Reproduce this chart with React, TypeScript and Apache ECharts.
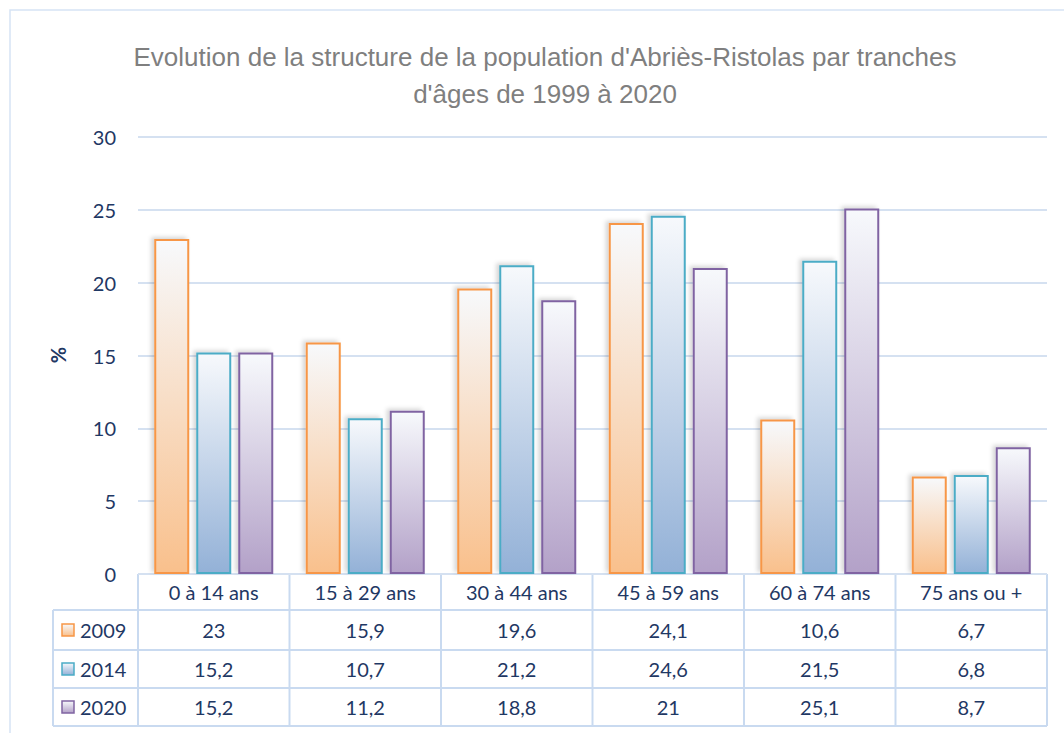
import React, { useEffect, useRef } from "react";
import * as echarts from "echarts";

const titleText = "Evolution de la structure de la population d'Abriès-Ristolas par tranches\nd'âges de 1999 à 2020";
const categories = ["0 à 14 ans", "15 à 29 ans", "30 à 44 ans", "45 à 59 ans", "60 à 74 ans", "75 ans ou +"];
const seriesNames = ["2009", "2014", "2020"];
const values2009 = [23, 15.9, 19.6, 24.1, 10.6, 6.7];
const values2014 = [15.2, 10.7, 21.2, 24.6, 21.5, 6.8];
const values2020 = [15.2, 11.2, 18.8, 21, 25.1, 8.7];
const yTicks = [0, 5, 10, 15, 20, 25, 30];

const allValues = [values2009, values2014, values2020];
const borderColors = ["#f79646", "#4bacc6", "#8064a2"];
const bottomColors = ["#f9c08c", "#93b1d7", "#b3a1c8"];
const topColor = "#f7f9fc";

const W = 1064;
const H = 733;
const GL = 138;
const GR = 1047;
const GT = 137;
const GB = 574;
const rowYs = [574, 610, 650, 688, 726];
const tableLeft = 53;
const textColor = "#1f3864";
const lineColor = "#c9daf0";
const FONT = "Lato, 'Open Sans', sans-serif";
const FS = 20;

function grad(i: number) {
  return new echarts.graphic.LinearGradient(0, 0, 0, 1, [
    { offset: 0, color: topColor },
    { offset: 1, color: bottomColors[i] },
  ]);
}

function fmt(v: number) {
  return String(v).replace(".", ",");
}

export default function App() {
  const ref = useRef<HTMLDivElement>(null);
  useEffect(() => {
    document.body.style.margin = "0";
    const chart = echarts.init(ref.current!, null, { renderer: "svg" });
    const colW = (GR - GL) / categories.length;
    const graphics: any[] = [];
    graphics.push({
      type: "rect",
      shape: { x: 10, y: 10, width: 1080, height: 760 },
      style: { fill: "none", stroke: "#d6e4f5", lineWidth: 1.5 },
      silent: true,
    });
    rowYs.forEach((y, i) => {
      graphics.push({
        type: "line",
        shape: { x1: i === 0 ? GL : tableLeft, y1: y, x2: GR, y2: y },
        style: { stroke: lineColor, lineWidth: 2 },
        silent: true,
      });
    });
    graphics.push({
      type: "line",
      shape: { x1: tableLeft, y1: rowYs[1], x2: tableLeft, y2: rowYs[4] },
      style: { stroke: lineColor, lineWidth: 2 },
    });
    for (let c = 0; c <= categories.length; c++) {
      const x = GL + c * colW;
      graphics.push({
        type: "line",
        shape: { x1: x, y1: rowYs[0], x2: x, y2: rowYs[4] },
        style: { stroke: lineColor, lineWidth: 2 },
      });
    }
    seriesNames.forEach((name, s) => {
      const yc = (rowYs[s + 1] + rowYs[s + 2]) / 2;
      graphics.push({
        type: "rect",
        shape: { x: 62, y: yc - 6, width: 12, height: 12 },
        style: { fill: grad(s), stroke: borderColors[s], lineWidth: 1.5 },
      });
      graphics.push({
        type: "text",
        x: 80,
        y: yc,
        style: { text: name, fill: textColor, font: `${FS}px ${FONT}`, textAlign: "left", textVerticalAlign: "middle" },
      });
      allValues[s].forEach((v, c) => {
        graphics.push({
          type: "text",
          x: GL + (c + 0.5) * colW,
          y: yc,
          style: { text: fmt(v), fill: textColor, font: `${FS}px ${FONT}`, textAlign: "center", textVerticalAlign: "middle" },
        });
      });
    });
    graphics.push({
      type: "text",
      x: 58,
      y: 355,
      rotation: Math.PI / 2,
      style: { text: "%", fill: textColor, font: `bold ${FS}px ${FONT}`, textAlign: "center", textVerticalAlign: "middle" },
    });

    chart.setOption({
      animation: false,
      backgroundColor: "#ffffff",
      title: {
        text: titleText,
        left: 540,
        top: 33,
        textAlign: "center",
        textStyle: {
          color: "#7f7f7f",
          fontSize: 26,
          fontWeight: "normal",
          fontFamily: "'Liberation Sans Narrow', 'Liberation Sans', Arial, sans-serif",
          lineHeight: 37,
        },
      },
      grid: { left: GL, right: W - GR, top: GT, bottom: H - GB, containLabel: false },
      xAxis: {
        type: "category",
        data: categories,
        axisLine: { show: false },
        axisTick: { show: false },
        axisLabel: { color: textColor, fontSize: FS, fontFamily: FONT, margin: 8, interval: 0 },
      },
      yAxis: {
        type: "value",
        min: yTicks[0],
        max: yTicks[yTicks.length - 1],
        interval: 5,
        axisLine: { show: false },
        axisTick: { show: false },
        splitLine: { lineStyle: { color: "#d5e1f1", width: 2 } },
        axisLabel: { color: textColor, fontSize: FS, fontFamily: FONT, margin: 22 },
      },
      series: seriesNames.map((name, s) => ({
        name,
        type: "bar",
        data: allValues[s],
        barWidth: 35,
        barGap: "20%",
        itemStyle: {
          color: grad(s),
          borderColor: borderColors[s],
          borderWidth: 2,
          shadowColor: "rgba(0,0,0,0.16)",
          shadowBlur: 4,
          shadowOffsetX: -3,
          shadowOffsetY: -2,
        },
      })),
      graphic: graphics,
    });
    return () => chart.dispose();
  }, []);
  return <div ref={ref} style={{ width: W, height: H }} />;
}
